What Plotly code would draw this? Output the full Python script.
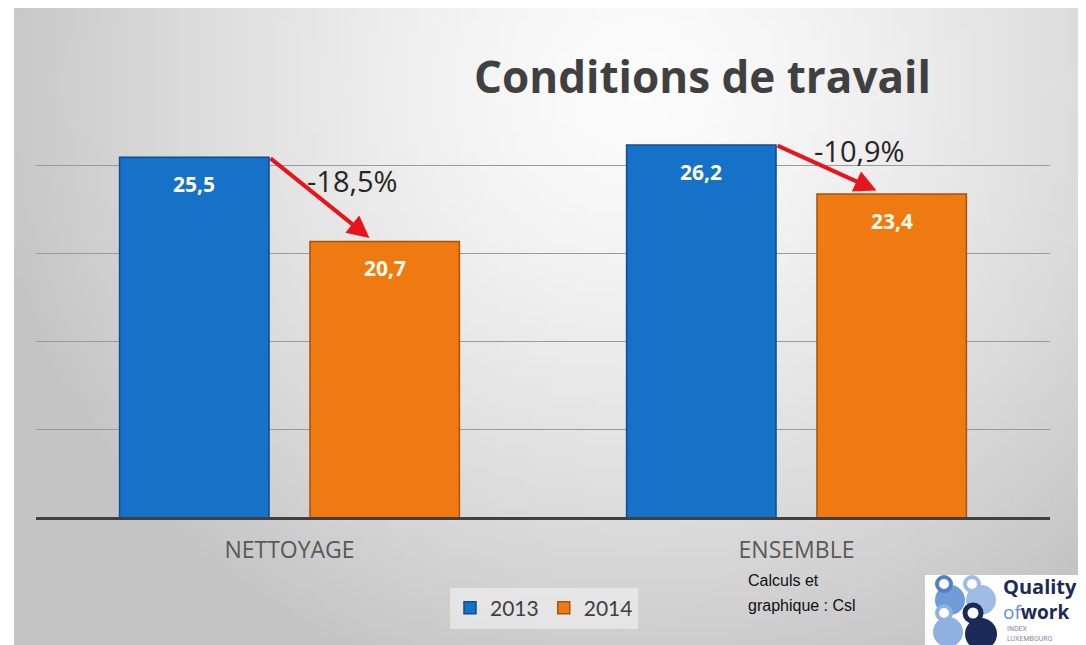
import base64, struct, zlib
import plotly.graph_objects as go

# ---------------- data ----------------
categories = ["NETTOYAGE", "ENSEMBLE"]
years = ["2013", "2014"]
values_2013 = [25.5, 26.2]
values_2014 = [20.7, 23.4]
change_labels = ["-18,5%", "-10,9%"]
title_text = "Conditions de travail"
source_lines = ["Calculs et", "graphique : Csl"]

# ---------------- layout constants ----------------
W, H = 1086, 645
OFF = 8                      # page body margin
PLOT_X0, PLOT_X1, PLOT_Y0, PLOT_Y1 = 36, 1050, 87, 517   # target pixel box of plot area
PW, PH = PLOT_X1 - PLOT_X0, PLOT_Y1 - PLOT_Y0
ML, MT = PLOT_X0 - OFF, PLOT_Y0 - OFF
MR, MB = W - ML - PW, H - MT - PH
BARGAP, GROUPGAP = 0.249, 0.215
BLUE, ORANGE = "#1572c8", "#f07a12"
FONT = "Open Sans, Noto Sans, sans-serif"

def px(x):  # target pixel x -> paper
    return (x - PLOT_X0) / PW

def py(y):  # target pixel y -> paper
    return 1 - (y - PLOT_Y0) / PH

# ---------------- background gradient image ----------------
def gradient_png(w, h):
    rows = []
    for j in range(h):
        row = bytearray([0])
        for i in range(w):
            dx = (i / (w - 1) - 0.58) / 0.62
            dy = (j / (h - 1) - 0.12) / 1.0
            d = min(1.0, (dx * dx + dy * dy) ** 0.5)
            v = int(round(252 - 56 * d ** 1.4))
            row += bytes([v, v, v])
        rows.append(bytes(row))
    raw = b"".join(rows)
    def chunk(t, d):
        c = struct.pack(">I", len(d)) + t + d
        return c + struct.pack(">I", zlib.crc32(t + d) & 0xffffffff)
    png = b"\x89PNG\r\n\x1a\n" + chunk(b"IHDR", struct.pack(">IIBBBBB", w, h, 8, 2, 0, 0, 0))
    png += chunk(b"IDAT", zlib.compress(raw, 9)) + chunk(b"IEND", b"")
    return "data:image/png;base64," + base64.b64encode(png).decode()

fig = go.Figure()
fig.add_trace(go.Bar(name=years[0], x=categories, y=values_2013,
                     marker=dict(color=BLUE, line=dict(color="#0b4f90", width=1.5))))
fig.add_trace(go.Bar(name=years[1], x=categories, y=values_2014,
                     marker=dict(color=ORANGE, line=dict(color="#a9520a", width=1.5))))

slot = (1 - BARGAP) / 2
half = slot * (1 - GROUPGAP) / 2
annotations = []
for i, cat in enumerate(categories):
    xb, xo = i - slot / 2, i + slot / 2
    for xv, v in ((xb, values_2013[i]), (xo, values_2014[i])):
        annotations.append(dict(x=xv, y=v, xref="x", yref="y", text=f"<b>{v:.1f}</b>".replace(".", ","),
                                showarrow=False, yshift=-27,
                                font=dict(family=FONT, size=21, color="#fdfbe8")))
    tx, ty = xb + half, values_2013[i]
    hx, hy = xo - 0.03, values_2014[i] + 0.2
    annotations.append(dict(x=hx, y=hy, ax=tx, ay=ty, xref="x", yref="y", axref="x", ayref="y",
                            showarrow=True, arrowhead=2, arrowsize=1.1, arrowwidth=4,
                            arrowcolor="#e8141b", text=""))
    annotations.append(dict(x=(tx + hx) / 2 + 0.065, y=(ty + hy) / 2 + 1.0, xref="x", yref="y",
                            text=change_labels[i], showarrow=False,
                            font=dict(family=FONT, size=29, color="#262626")))

annotations.append(dict(x=px(702), y=py(76), xref="paper", yref="paper", text=f"<b>{title_text}</b>",
                        showarrow=False, xanchor="center", yanchor="middle",
                        font=dict(family=FONT, size=44, color="#404040")))
for k, line in enumerate(source_lines):
    annotations.append(dict(x=px(746), y=py(580 + 25 * k), xref="paper", yref="paper", text=line,
                            showarrow=False, xanchor="left", yanchor="middle", align="left",
                            font=dict(family="Liberation Sans, Arial, sans-serif", size=16, color="#111111")))
# logo text
annotations += [
    dict(x=px(1001), y=py(586), xref="paper", yref="paper", text="<b>Quality</b>", showarrow=False,
         xanchor="left", yanchor="middle", font=dict(family=FONT, size=20, color="#1b2a59")),
    dict(x=px(1001), y=py(612), xref="paper", yref="paper",
         text="<span style='color:#5b8fd6'>of</span><b>work</b>", showarrow=False,
         xanchor="left", yanchor="middle", font=dict(family=FONT, size=19, color="#1b2a59")),
    dict(x=px(1005), y=py(629), xref="paper", yref="paper", text="INDEX", showarrow=False,
         xanchor="left", yanchor="middle", font=dict(family="Roboto, sans-serif", size=7, color="#8a8a9a")),
    dict(x=px(1005), y=py(639), xref="paper", yref="paper", text="LUXEMBOURG", showarrow=False,
         xanchor="left", yanchor="middle", font=dict(family="Roboto, sans-serif", size=7, color="#8a8a9a")),
]

def circ(cx, cy, r, fill, line=None, lw=0):
    return dict(type="circle", xref="paper", yref="paper", x0=px(cx - r), x1=px(cx + r),
                y0=py(cy + r), y1=py(cy - r), fillcolor=fill,
                line=dict(color=line or fill, width=lw), layer="above")

shapes = [
    dict(type="rect", xref="paper", yref="paper", x0=px(925), x1=px(1100), y0=py(660), y1=py(575),
         fillcolor="white", line=dict(width=0), layer="above"),
    circ(950, 600, 15, "#6f9bd8"), circ(981, 600, 15, "#9fbce6"),
    circ(948, 632, 15, "#8fb0e0"), circ(981, 634, 16, "#1b2a59"),
    circ(944, 584, 7, "white", "#4f82c9", 4), circ(972, 584, 7, "white", "#9fbce6", 4),
    circ(944, 613, 7, "white", "#8fb0e0", 4), circ(973, 613, 8, "white", "#1b2a59", 5),
]

fig.update_layout(
    width=W, height=H, margin=dict(l=ML, r=MR, t=MT, b=MB),
    paper_bgcolor="white", plot_bgcolor="rgba(0,0,0,0)",
    barmode="group", bargap=BARGAP, bargroupgap=GROUPGAP,
    showlegend=True,
    legend=dict(orientation="h", x=px(544), y=py(608), xanchor="center", yanchor="middle",
                bgcolor="rgba(246,246,246,0.55)", borderwidth=0,
                font=dict(family="Lato, sans-serif", size=21, color="#404040"),
                itemwidth=30, tracegroupgap=0),
    xaxis=dict(showgrid=False, showline=True, linecolor="#404040", linewidth=3, ticks="",
               tickfont=dict(family=FONT, size=23, color="#595959"), ticklabelstandoff=10),
    yaxis=dict(range=[5, 29.5], dtick=5, showticklabels=False, showgrid=True,
               gridcolor="#9a9a9a", gridwidth=1, zeroline=False, showline=False),
    annotations=annotations, shapes=shapes,
    images=[dict(source=gradient_png(108, 64), xref="paper", yref="paper",
                 x=px(14), y=py(5), sizex=(W + OFF - 14) / PW, sizey=(H + OFF - 5) / PH,
                 xanchor="left", yanchor="top", sizing="stretch", layer="below")],
)

fig.write_html("out.html")
